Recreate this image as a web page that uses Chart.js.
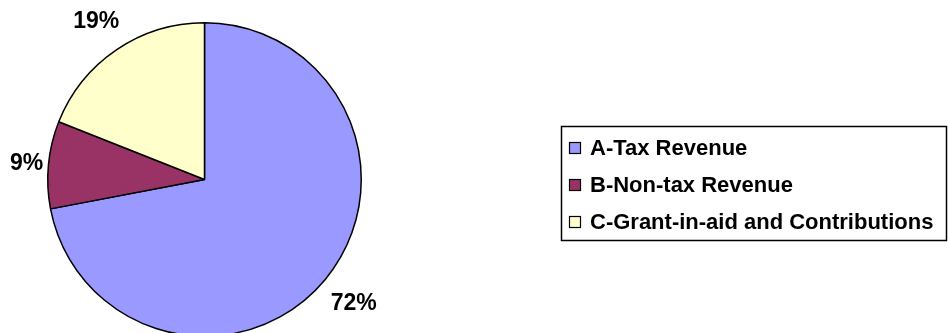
<!DOCTYPE html>
<html>
<head>
<meta charset="utf-8">
<script src="https://cdn.jsdelivr.net/npm/chart.js@4/dist/chart.umd.min.js"></script>
<style>
html, body { margin: 0; padding: 0; background: #fff; width: 948px; height: 333px; overflow: hidden; }
#wrap { position: absolute; left: 0; top: 0; width: 948px; height: 400px; }
</style>
</head>
<body>
<div id="wrap"><canvas id="c" width="948" height="400" style="width:948px;height:400px"></canvas></div>
<script>
const categories = ['A-Tax Revenue', 'B-Non-tax Revenue', 'C-Grant-in-aid and Contributions'];
const shares = [72, 9, 19];
const sliceColors = ['#9999FF', '#993366', '#FFFFCC'];

const FONT = '"Liberation Sans", Arial, sans-serif';
// label distance from pie centre, as a multiple of the pie radius (styling only)
const labelRadiusFactor = [1.236, 1.14, 1.229];

const labelsPlugin = {
  id: 'outsideLabels',
  afterDatasetsDraw(chart) {
    const ctx = chart.ctx;
    const meta = chart.getDatasetMeta(0);
    const total = shares.reduce((a, b) => a + b, 0);
    ctx.save();
    ctx.font = 'bold 23px ' + FONT;
    ctx.fillStyle = '#000';
    ctx.textAlign = 'center';
    ctx.textBaseline = 'middle';
    meta.data.forEach((arc, i) => {
      const p = arc.getProps(['x', 'y', 'startAngle', 'endAngle', 'outerRadius'], true);
      const mid = (p.startAngle + p.endAngle) / 2;
      const d = p.outerRadius * labelRadiusFactor[i];
      const txt = Math.round(shares[i] / total * 100) + '%';
      ctx.fillText(txt, p.x + Math.cos(mid) * d, p.y + Math.sin(mid) * d + 1);
    });
    ctx.restore();
  },
  afterDraw(chart) {
    const ctx = chart.ctx;
    ctx.save();
    ctx.strokeStyle = '#000';
    ctx.lineWidth = 1.5;
    ctx.strokeRect(561.5, 126.5, 385, 114);
    ctx.font = 'bold 22px ' + FONT;
    ctx.textAlign = 'left';
    ctx.textBaseline = 'middle';
    categories.forEach((name, i) => {
      const cy = 148 + i * 37;
      ctx.fillStyle = sliceColors[i];
      ctx.fillRect(569.5, cy - 5.5, 11, 11);
      ctx.lineWidth = 1.2;
      ctx.strokeStyle = '#000';
      ctx.strokeRect(569.5, cy - 5.5, 11, 11);
      ctx.fillStyle = '#000';
      ctx.fillText(name, 590, cy + 1);
    });
    ctx.restore();
  }
};

new Chart(document.getElementById('c'), {
  type: 'pie',
  data: {
    labels: categories,
    datasets: [{
      data: shares,
      backgroundColor: sliceColors,
      borderColor: '#000',
      borderWidth: 1.5,
      hoverOffset: 0,
      hoverBorderWidth: 1.5
    }]
  },
  options: {
    responsive: false,
    animation: false,
    events: [],
    layout: { padding: { left: 47, top: 22, right: 586, bottom: 63 } },
    plugins: {
      legend: { display: false },
      tooltip: { enabled: false },
      title: { display: false }
    }
  },
  plugins: [labelsPlugin]
});
</script>
</body>
</html>
